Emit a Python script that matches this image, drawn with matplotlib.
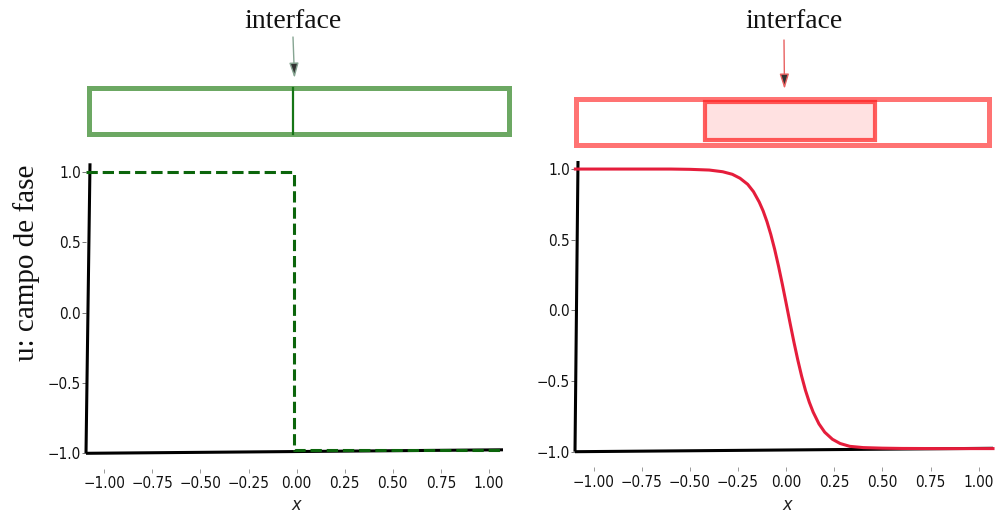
import matplotlib
matplotlib.use("Agg")
import matplotlib.pyplot as plt
from matplotlib.patches import Rectangle

plt.rcParams["font.family"] = "DejaVu Sans"
plt.rcParams["font.stretch"] = "condensed"

# sharp interface: step profile of the phase field
step_x = [-1.095, -0.015, -0.015, 1.073]
step_u = [1.0, 1.0, -0.975, -0.975]

# diffuse interface: smooth profile
diff_x = [-1.095, -0.8, -0.6, -0.5, -0.4, -0.33, -0.28, -0.24, -0.2, -0.17,
          -0.14, -0.12, -0.1, -0.08, -0.06, -0.04, -0.02, 0.0, 0.02, 0.04,
          0.06, 0.08, 0.1, 0.12, 0.14, 0.17, 0.2, 0.24, 0.28, 0.33,
          0.4, 0.5, 0.6, 0.8, 1.074]
diff_u = [1.0, 1.0, 1.0, 0.998, 0.993, 0.981, 0.963, 0.935, 0.892, 0.840,
          0.766, 0.704, 0.628, 0.537, 0.432, 0.313, 0.184, 0.048, -0.090, -0.224,
          -0.350, -0.465, -0.566, -0.650, -0.720, -0.803, -0.862, -0.912, -0.942, -0.962,
          -0.971, -0.975, -0.977, -0.978, -0.978]

xticks = [-1.0, -0.75, -0.5, -0.25, 0.0, 0.25, 0.5, 0.75, 1.0]
xtick_labels = ["\u22121.00", "\u22120.75", "\u22120.50", "\u22120.25", "0.00",
                "0.25", "0.50", "0.75", "1.00"]
yticks = [-1.0, -0.5, 0.0, 0.5, 1.0]
ytick_labels = ["\u22121.0", "\u22120.5", "0.0", "0.5", "1.0"]

W, H = 998, 516
fig = plt.figure(figsize=(W / 100, H / 100), dpi=100)


def px_axes(left, right, top, bottom):
    return fig.add_axes([left / W, 1 - bottom / H, (right - left) / W, (bottom - top) / H])


def style_axes(ax, xlim, ylim, lean, drop):
    ax.set_xlim(*xlim)
    ax.set_ylim(*ylim)
    for s in ax.spines.values():
        s.set_visible(False)
    ax.spines["bottom"].set_position(("outward", 11))
    ax.set_xticks(xticks)
    ax.set_xticklabels(xtick_labels)
    ax.set_yticks(yticks)
    ax.set_yticklabels(ytick_labels)
    ax.tick_params(axis="x", direction="out", length=3, width=0.7, color="#999999",
                   pad=2.5, labelsize=11, labelcolor="#111111")
    ax.tick_params(axis="y", direction="out", length=3, width=0.7, color="#777777",
                   pad=0.5, labelsize=11, labelcolor="#111111")
    ax.set_facecolor("none")
    # hand-drawn looking axis lines
    ax.plot([0, lean], [0, 1], color="black", lw=2.2, transform=ax.transAxes,
            clip_on=False, solid_capstyle="butt", zorder=3)
    ax.plot([0, 1], [0, drop], color="black", lw=2.2, transform=ax.transAxes,
            clip_on=False, solid_capstyle="butt", zorder=3)


ax1 = px_axes(86, 503, 163.3, 453.3)
style_axes(ax1, (-1.095, 1.073), (-1.0, 1.062), 4 / 417, 3.5 / 290)
ax1.plot(step_x, step_u, "--", color="#0b650b", lw=2.2, zorder=4, clip_on=False)

ax2 = px_axes(575, 993, 161, 451.7)
style_axes(ax2, (-1.097, 1.074), (-1.0, 1.057), 3 / 418, 3.4 / 290)
ax2.plot(diff_x, diff_u, color="#e51d3b", lw=2.2, zorder=4, clip_on=False)

fig.text(27 / W, 1 - 263 / H, "u: campo de fase", rotation=90, ha="center", va="center",
         family="Liberation Serif", fontstretch="normal", fontsize=21, color="#111111")
for cx in (296, 787.5):
    fig.text(cx / W, 1 - 505 / H, "x", ha="center", va="center", style="italic",
             fontsize=13, color="#222222")

# schematic bars above the plots
deco = fig.add_axes([0, 0, 1, 1])
deco.set_xlim(0, W)
deco.set_ylim(H, 0)
deco.axis("off")
deco.set_zorder(-1)

deco.add_patch(Rectangle((89, 88), 420, 46, fill=False, ec="#6ca863", lw=3.6))
deco.plot([293, 293], [88, 134], color="#167516", lw=1.6)

deco.add_patch(Rectangle((576.5, 98.5), 413, 46.5, fill=False, ec="#ff0000", alpha=0.55, lw=3.6))
deco.add_patch(Rectangle((705, 102), 170, 38, fc="#ffe1e1", ec="none"))
deco.add_patch(Rectangle((705, 102), 170, 38, fill=False, ec="#ff1a1a", alpha=0.7, lw=3.0))

for cx, x0, y0, x1, y1, lc in [(292.5, 293, 37, 294.5, 78, "#86a592"),
                               (793.5, 784, 40, 784.5, 89, "#e86060")]:
    deco.text(cx, 22, "interface", ha="center", va="center", family="Liberation Serif",
              fontstretch="normal", fontsize=20, color="#111111")
    deco.annotate("", xy=(x1, y1), xytext=(x0, y0),
                  arrowprops=dict(arrowstyle="-|>,head_length=0.45,head_width=0.14",
                                  mutation_scale=20, ec=lc, fc="#333333", lw=1.0,
                                  shrinkA=0, shrinkB=0))

fig.savefig("out.png", dpi=100)
